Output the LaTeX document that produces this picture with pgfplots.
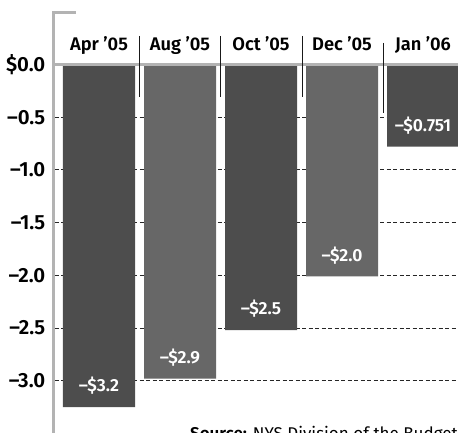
\documentclass[border=0pt]{standalone}
\usepackage{fontspec}
\setmainfont{Fira Sans}[BoldFont={* SemiBold}]
\usepackage{pgfplots}
\pgfplotsset{compat=1.18}
\definecolor{bardark}{HTML}{4D4D4D}
\definecolor{barlight}{HTML}{676767}
\definecolor{axisgray}{HTML}{B3B3B3}
\begin{document}
\begin{tikzpicture}[x=1pt,y=1pt]
\begin{axis}[
  at={(55pt,0pt)}, anchor=south west,
  scale only axis, width=403pt, height=422pt,
  xmin=-0.5432, xmax=4.432, ymin=-3.496, ymax=0.508,
  axis line style={draw=none},
  major tick style={draw=none},
  xtick={0,1,2,3,4},
  xticklabels={Apr ’05, Aug ’05, Oct ’05, Dec ’05, Jan ’06},
  xticklabel pos=upper,
  x tick label style={anchor=base, yshift=-43.3pt, inner sep=0pt, font=\bfseries\fontsize{18.3}{18.3}\selectfont},
  ytick={-3,-2.5,-2,-1.5,-1,-0.5,0},
  yticklabels={–3.0,–2.5,–2.0,–1.5,–1.0,–0.5,\$0.0},
  y tick label style={anchor=east, inner sep=0pt, xshift=-9.5pt, font=\bfseries\fontsize{20.5}{20.5}\selectfont},
  ymajorgrids,
  grid style={dash pattern=on 4pt off 2.5pt, line width=1pt, color=black!85},
  ybar, bar width=72pt,
  point meta=explicit symbolic,
  nodes near coords,
  every node near coord/.append style={anchor=center, yshift=21pt, text=white, inner sep=0pt, font=\bfseries\fontsize{17.5}{17.5}\selectfont},
  clip=false
]
\addplot[fill=bardark, draw=none, bar shift=0pt] coordinates {(0,-3.25) [–\$3.2] (2,-2.52) [–\$2.5] (4,-0.78) [–\$0.751]};
\addplot[fill=barlight, draw=none, bar shift=0pt] coordinates {(1,-2.98) [–\$2.9] (3,-2.01) [–\$2.0]};
\end{axis}
\draw[axisgray, line width=3.4pt] (55,368.2) -- (458,368.2);
\draw[axisgray, line width=3.3pt, line cap=butt, line join=miter] (76,420.65) -- (53.4,420.65) -- (53.4,0);
\draw[line width=1pt, black!90] (139.5,397) -- (139.5,336);
\draw[line width=1pt, black!90] (220.5,397) -- (220.5,336);
\draw[line width=1pt, black!90] (302,397) -- (302,336);
\draw[line width=1pt, black!90] (383,390) -- (383,320);
\node[anchor=base west, inner sep=0pt, font=\fontsize{17}{17}\selectfont] at (190,-7) {\textbf{Source:} NYS Division of the Budget};
\pgfresetboundingbox
\useasboundingbox (0,0) rectangle (458,433);
\end{tikzpicture}
\end{document}
